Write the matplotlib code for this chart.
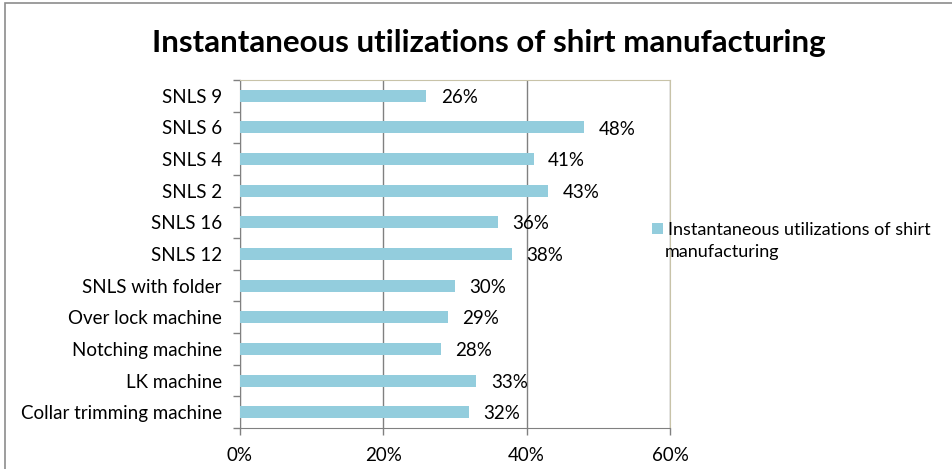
import numpy as np
import matplotlib.pyplot as plt
from matplotlib.patches import Rectangle

machines = ['Collar trimming machine', 'LK machine', 'Notching machine',
            'Over lock machine', 'SNLS with folder', 'SNLS 12', 'SNLS 16',
            'SNLS 2', 'SNLS 4', 'SNLS 6', 'SNLS 9']
utilization = [32, 33, 28, 29, 30, 38, 36, 43, 41, 48, 26]
x_ticks = [0, 20, 40, 60]
series_name = 'Instantaneous utilizations of shirt manufacturing'

plt.rcParams['font.family'] = ['Lato', 'DejaVu Sans']

fig = plt.figure(figsize=(9.53, 4.69), dpi=100)
ax = fig.add_axes([240/953, 1 - 428/469, 430/953, 348/469])

# outer chart frame (only top and left visible)
fig.patches.append(Rectangle((5/953, -0.1), 1.2, 1 - 3/469 + 0.1,
                             transform=fig.transFigure, fill=False,
                             edgecolor='#8c8c8c', linewidth=1.2))

ypos = np.arange(len(machines))
bars = ax.barh(ypos, utilization, height=0.38, color='#93CDDD',
               label=series_name, zorder=3)

for y, v in zip(ypos, utilization):
    ax.text(v + 2.0, y - 0.05, f'{v}%', va='center', ha='left',
            fontsize=13.5, color='black')

ax.set_xlim(0, 60)
ax.set_ylim(-0.5, len(machines) - 0.5)
ax.set_xticks(x_ticks)
ax.set_xticklabels([f'{t}%' for t in x_ticks], fontsize=13.5)
ax.set_yticks(ypos)
ax.set_yticklabels(machines, fontsize=13.5)
ax.set_yticks(np.arange(len(machines) + 1) - 0.5, minor=True)
ax.tick_params(axis='y', which='major', length=0, pad=13)
ax.tick_params(axis='y', which='minor', length=5, color='#808080', width=1)
ax.tick_params(axis='x', length=5, color='#808080', width=1, pad=9)

ax.xaxis.grid(True, color='#808080', linewidth=1)
ax.set_axisbelow(True)
for side in ['left', 'bottom']:
    ax.spines[side].set_color('#808080')
for side in ['top', 'right']:
    ax.spines[side].set_color('#c8c3a8')

fig.text(489/953, 1 - 43/469, 'Instantaneous utilizations of shirt manufacturing',
         ha='center', va='center', fontsize=22.5, fontweight='bold')

# legend: marker sits beside the first line, label wraps below
handles, _ = ax.get_legend_handles_labels()
fig.legend(handles, ['Instantaneous utilizations of shirt'],
           loc='center left', bbox_to_anchor=(645/953, 1 - 230/469),
           frameon=False, fontsize=13, handlelength=0.6, handleheight=0.6,
           handletextpad=0.25, borderaxespad=0)
fig.text(665/953, 1 - 252/469, 'manufacturing', ha='left', va='center',
         fontsize=13)

fig.savefig('out.png', dpi=100)
